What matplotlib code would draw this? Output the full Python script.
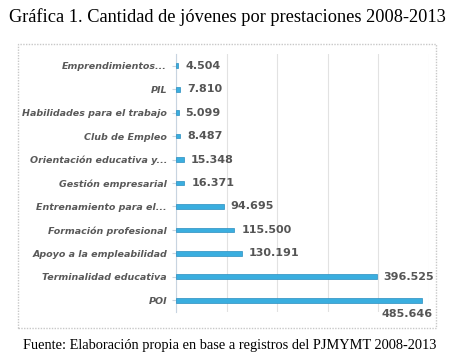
import matplotlib.pyplot as plt
from matplotlib.patches import Rectangle

# data (top to bottom as shown)
categorias = ['Emprendimientos...', 'PIL', 'Habilidades para el trabajo', 'Club de Empleo',
              'Orientación educativa y...', 'Gestión empresarial', 'Entrenamiento para el...',
              'Formación profesional', 'Apoyo a la empleabilidad', 'Terminalidad educativa', 'POI']
valores = [4504, 7810, 5099, 8487, 15348, 16371, 94695, 115500, 130191, 396525, 485646]
etiquetas = ['4.504', '7.810', '5.099', '8.487', '15.348', '16.371', '94.695',
             '115.500', '130.191', '396.525', '485.646']

W, H = 449, 359
fig = plt.figure(figsize=(W / 100, H / 100), dpi=100, facecolor='white')

# outer dotted frame of the chart
fig.patches.append(Rectangle((18 / W, 1 - 328 / H), (436 - 18) / W, (328 - 44) / H,
                             transform=fig.transFigure, fill=False, edgecolor='#c8c8c8',
                             linestyle=(0, (1, 1)), linewidth=1.0))

ax = fig.add_axes([176 / W, 1 - 312 / H, (429 - 176) / W, (312 - 54) / H])
pos = list(range(len(categorias)))
ax.barh(pos, valores, height=0.2, color='#3aaedf', edgecolor='#2a8ec0', linewidth=0.5, zorder=3)
ax.set_ylim(len(categorias) - 0.5, -0.5)
ax.set_xlim(0, 500000)
ax.set_xticks(range(0, 500001, 100000))
ax.set_xticklabels([])
ax.tick_params(axis='x', length=0)
ax.tick_params(axis='y', length=3, color='#c8d4e0')
ax.grid(axis='x', color='#e2e2e2', linewidth=0.8, zorder=0)
for s in ['top', 'right', 'bottom']:
    ax.spines[s].set_visible(False)
ax.spines['left'].set_color('#c8d4e0')
ax.set_yticks(pos)
ax.set_yticklabels(categorias, fontsize=6.8, style='italic', fontweight='bold', color='#595959',
                   family='DejaVu Sans')

for i, (v, t) in enumerate(zip(valores, etiquetas)):
    if i == len(valores) - 1:
        ax.annotate(t, (v, i), xytext=(8, -10), textcoords='offset points', ha='right', va='center',
                    fontsize=8, fontweight='bold', color='#555555')
    else:
        ax.annotate(t, (v, i), xytext=(5, 0), textcoords='offset points', ha='left', va='center',
                    fontsize=8, fontweight='bold', color='#555555')

fig.text(9 / W, 1 - 17 / H, 'Gráfica 1. Cantidad de jóvenes por prestaciones 2008-2013',
         family='Liberation Serif', fontsize=13.2, va='center', ha='left')
fig.text(23 / W, 1 - 346 / H, 'Fuente: Elaboración propia en base a registros del PJMYMT 2008-2013',
         family='Liberation Serif', fontsize=10.4, va='center', ha='left')

fig.savefig('out.png', dpi=100)
